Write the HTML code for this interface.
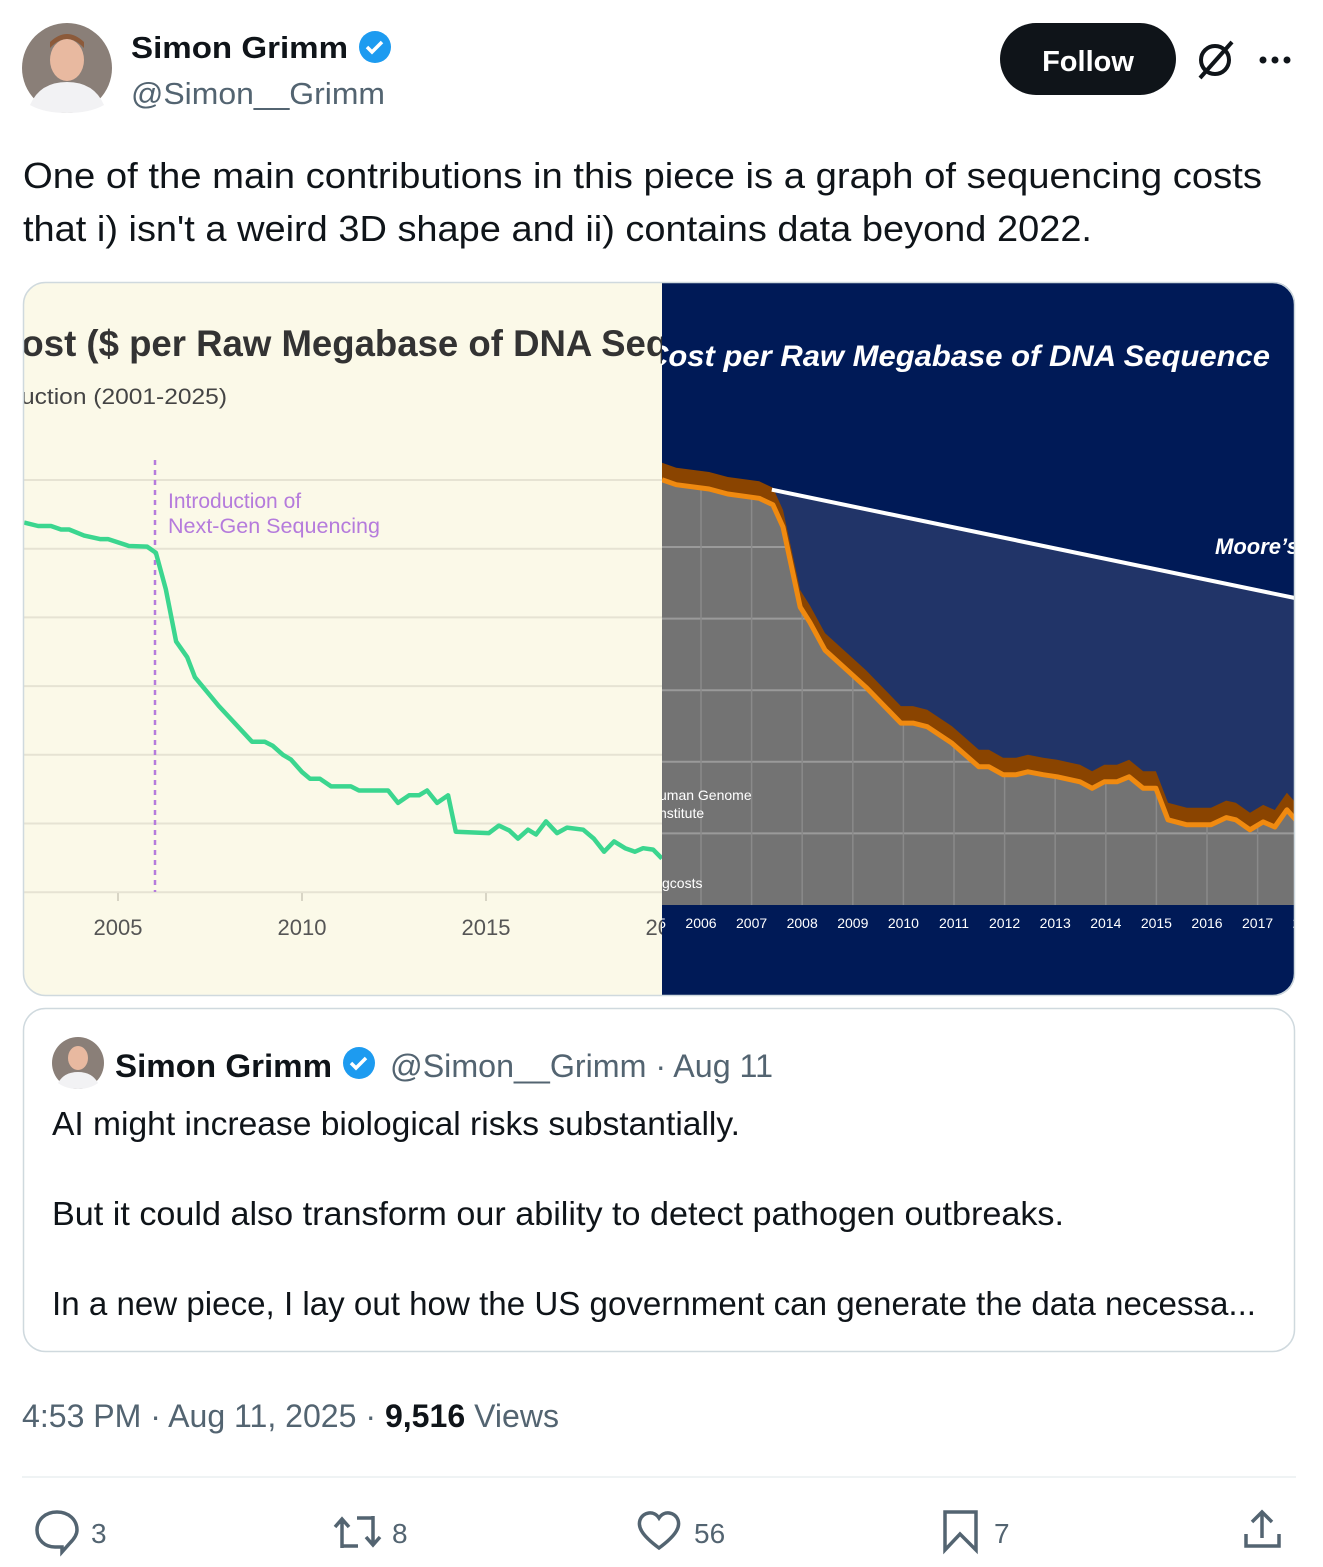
<!DOCTYPE html>
<html><head><meta charset="utf-8">
<style>
html,body{margin:0;padding:0;background:#fff;}
body{width:1323px;height:1567px;overflow:hidden;position:relative;font-family:"Liberation Sans",sans-serif;}
svg{position:absolute;left:0;top:0;}
</style></head>
<body>
<svg id="page" width="1323" height="1567" viewBox="0 0 1323 1567" xmlns="http://www.w3.org/2000/svg">
  <defs>
    <clipPath id="cardClip"><rect x="23" y="282" width="1272" height="714" rx="22"/></clipPath>
    <clipPath id="leftClip"><rect x="23" y="282" width="639" height="714"/></clipPath>
    <clipPath id="rightClip"><rect x="662" y="282" width="633" height="714"/></clipPath>
    <clipPath id="rightPlot"><rect x="662" y="282" width="632" height="623"/></clipPath>
    <clipPath id="grayClip"><path id="grayClipPath"/></clipPath>
  </defs>

  <g>
    <circle cx="67" cy="68" r="45" fill="#8a7f78"/>
    <ellipse cx="67" cy="60" rx="17" ry="21" fill="#e8b9a0"/>
    <path d="M50 48 Q67 30 84 48 L84 42 Q67 26 50 42Z" fill="#8c5a3a"/>
    <path d="M30 105 Q40 82 67 82 Q94 82 104 105 Q90 113 67 113 Q44 113 30 105Z" fill="#f2f2f4"/>
  </g>
  <text x="131" y="58" font-size="31" font-weight="bold" fill="#0f1419" textLength="217" lengthAdjust="spacingAndGlyphs">Simon Grimm</text>
  <g>
    <circle cx="375" cy="47" r="16" fill="#1d9bf0"/>
    <path d="M367 47 l5 5 l10 -10" stroke="#fff" stroke-width="3.5" fill="none"/>
  </g>
  <text x="131" y="104" font-size="31" fill="#536471" textLength="254" lengthAdjust="spacingAndGlyphs">@Simon__Grimm</text>

  <g>
    <rect x="1000" y="23" width="176" height="72" rx="36" fill="#0f1419"/>
    <text x="1088" y="71" font-size="29" font-weight="bold" fill="#fff" text-anchor="middle">Follow</text>
  </g>
  <g stroke="#0f1419" stroke-width="4" fill="none">
    <circle cx="1215" cy="60" r="14"/>
    <line x1="1200" y1="78" x2="1232" y2="42"/>
  </g>
  <g fill="#0f1419">
    <circle cx="1263" cy="60" r="3.5"/><circle cx="1275" cy="60" r="3.5"/><circle cx="1287" cy="60" r="3.5"/>
  </g>

  <g font-size="36" fill="#0f1419">
    <text x="23" y="188" textLength="1239" lengthAdjust="spacingAndGlyphs">One of the main contributions in this piece is a graph of sequencing costs</text>
    <text x="23" y="241" textLength="1069" lengthAdjust="spacingAndGlyphs">that i) isn't a weird 3D shape and ii) contains data beyond 2022.</text>
  </g>

  <g clip-path="url(#cardClip)">
    <g clip-path="url(#leftClip)">
      <rect x="23" y="282" width="639" height="714" fill="#fbf9e8"/>
      <text x="-5" y="356" font-size="37" font-weight="bold" fill="#333" textLength="791" lengthAdjust="spacingAndGlyphs">Cost ($ per Raw Megabase of DNA Sequence)</text>
      <text x="21" y="404" font-size="22" fill="#444" textLength="206" lengthAdjust="spacingAndGlyphs">uction (2001-2025)</text>
      <g id="leftGrid"></g>
      <g id="leftAxis"></g>
      <line x1="155" y1="460" x2="155" y2="892" stroke="#b57bdc" stroke-width="2.5" stroke-dasharray="5,5"/>
      <text x="168" y="508" font-size="21" fill="#b57bdc">Introduction of</text>
      <text x="168" y="533" font-size="21" fill="#b57bdc" textLength="212" lengthAdjust="spacingAndGlyphs">Next-Gen Sequencing</text>
      <path id="leftLine" fill="none" stroke="#3bd68f" stroke-width="4.5" stroke-linejoin="round"/>
    </g>
    <g clip-path="url(#rightClip)">
      <rect x="662" y="282" width="633" height="714" fill="#001a57"/>
      <g clip-path="url(#rightPlot)">
        <path id="blueArea" fill="#213468"/>
        <path id="grayArea" fill="#737373"/>
        <g id="rightGrid" clip-path="url(#grayClip)"></g>
        <path id="bandArea" fill="#8a4400"/>
        <path id="rightLine" fill="none" stroke="#f08a10" stroke-width="5" stroke-linejoin="round"/>
        <line id="mooreLine" stroke="#fff" stroke-width="4"/>
      </g>
      <text x="646" y="366" font-size="30" font-weight="bold" font-style="italic" fill="#fff" textLength="624" lengthAdjust="spacingAndGlyphs">Cost per Raw Megabase of DNA Sequence</text>
      <text x="1215" y="554" font-size="22" font-weight="bold" font-style="italic" fill="#fff">Moore’s Law</text>
      <text x="659" y="800" font-size="14" fill="#fff">uman Genome</text>
      <text x="659" y="818" font-size="14" fill="#fff">nstitute</text>
      <text x="662" y="888" font-size="14" fill="#fff">gcosts</text>
      <g id="rightAxis"></g>
    </g>
  </g>
  <rect x="23.5" y="282.5" width="1271" height="713" rx="22" fill="none" stroke="#cfd9de" stroke-width="1.5"/>

  <g>
    <rect x="23.5" y="1008.5" width="1271" height="343" rx="22" fill="#fff" stroke="#cfd9de" stroke-width="1.5"/>
    <g>
      <circle cx="78" cy="1063" r="26" fill="#8a7f78"/>
      <ellipse cx="78" cy="1058" rx="10" ry="12" fill="#e8b9a0"/>
      <path d="M58 1083 Q64 1072 78 1072 Q92 1072 98 1083 Q90 1089 78 1089 Q66 1089 58 1083Z" fill="#f2f2f4"/>
    </g>
    <text x="115" y="1077" font-size="32" font-weight="bold" fill="#0f1419" textLength="217" lengthAdjust="spacingAndGlyphs">Simon Grimm</text>
    <circle cx="359" cy="1063" r="16" fill="#1d9bf0"/>
    <path d="M351 1063 l5 5 l10 -10" stroke="#fff" stroke-width="3.5" fill="none"/>
    <text x="390" y="1077" font-size="32" fill="#536471" textLength="383" lengthAdjust="spacingAndGlyphs">@Simon__Grimm · Aug 11</text>
    <g font-size="33" fill="#0f1419">
      <text x="52" y="1135" textLength="688" lengthAdjust="spacingAndGlyphs">AI might increase biological risks substantially.</text>
      <text x="52" y="1225" textLength="1012" lengthAdjust="spacingAndGlyphs">But it could also transform our ability to detect pathogen outbreaks.</text>
      <text x="52" y="1315" textLength="1204" lengthAdjust="spacingAndGlyphs">In a new piece, I lay out how the US government can generate the data necessa...</text>
    </g>
  </g>

  <text x="22" y="1427" font-size="32" fill="#536471" textLength="537" lengthAdjust="spacingAndGlyphs">4:53 PM · Aug 11, 2025 · <tspan font-weight="bold" fill="#0f1419">9,516</tspan> Views</text>
  <line x1="22" y1="1477" x2="1296" y2="1477" stroke="#eff3f4" stroke-width="2"/>

  <g stroke="#536471" stroke-width="3.5" fill="none">
    <path d="M57 1512 C45 1512 37 1520 37 1530 C37 1540 45 1547 55 1547 L62 1547 L62 1552 L70 1543 C74 1539 77 1535 77 1530 C77 1520 69 1512 57 1512Z"/>
    <path d="M342 1548 V1520 M335 1527 L342 1519 L349 1527 M342 1546 H358 M373 1516 V1544 M366 1537 L373 1545 L380 1537 M373 1518 H357"/>
    <path d="M659 1548 C640 1534 638 1526 640 1520 C643 1512 654 1510 659 1518 C664 1510 675 1512 678 1520 C680 1526 678 1534 659 1548Z"/>
    <path d="M945 1512 H976 V1550 L960 1534 L945 1550Z"/>
    <path d="M1262 1512 V1538 M1252 1522 L1262 1512 L1272 1522 M1246 1534 V1546 H1279 V1534"/>
  </g>
  <g font-size="28" fill="#536471">
    <text x="91" y="1543">3</text>
    <text x="392" y="1543">8</text>
    <text x="694" y="1543">56</text>
    <text x="994" y="1543">7</text>
  </g>
</svg>
<script>
const leftYears = [2002.45,2002.83,2003.18,2003.45,2003.67,2004.08,2004.51,2004.73,2005.30,2005.79,2006.03,2006.30,2006.58,2006.88,2007.09,2007.74,2008.64,2008.99,2009.21,2009.48,2009.70,2010.00,2010.22,2010.49,2010.79,2011.33,2011.55,2012.34,2012.61,2012.91,2013.18,2013.40,2013.67,2013.97,2014.18,2015.08,2015.35,2015.63,2015.87,2016.14,2016.36,2016.63,2016.93,2017.20,2017.64,2017.93,2018.21,2018.48,2018.78,2019.05,2019.27,2019.54,2019.78];
const leftLogCost = [3.38,3.33,3.33,3.28,3.28,3.19,3.14,3.14,3.04,3.03,2.94,2.41,1.65,1.42,1.13,0.71,0.19,0.19,0.13,0.00,-0.07,-0.25,-0.35,-0.35,-0.46,-0.46,-0.52,-0.52,-0.70,-0.59,-0.59,-0.52,-0.70,-0.59,-1.12,-1.14,-1.03,-1.10,-1.22,-1.09,-1.16,-0.97,-1.14,-1.06,-1.09,-1.22,-1.41,-1.26,-1.36,-1.41,-1.36,-1.38,-1.51];
const leftGridLogs = [4,3,2,1,0,-1,-2];
const leftTickYears = [2005,2010,2015,2020];
const leftTickLabels = ["2005","2010","2015","2020"];

const rightYears = [2005.73,2006.01,2006.66,2007.03,2007.65,2007.92,2008.12,2008.46,2008.65,2008.95,2009.76,2010.45,2010.69,2010.97,2011.46,2011.99,2012.19,2012.47,2012.73,2012.96,2013.26,2013.54,2013.99,2014.23,2014.47,2014.72,2014.96,2015.24,2015.49,2015.73,2016.10,2016.58,2016.88,2017.07,2017.35,2017.61,2017.84,2018.08,2018.34];
const rightLogCost = [3.94,3.87,3.81,3.74,3.68,3.59,3.28,2.16,1.95,1.56,1.04,0.54,0.54,0.49,0.26,-0.07,-0.07,-0.18,-0.18,-0.14,-0.18,-0.21,-0.28,-0.37,-0.28,-0.28,-0.21,-0.37,-0.37,-0.81,-0.88,-0.88,-0.78,-0.81,-0.95,-0.84,-0.91,-0.67,-0.88];
const mooreYears = [2007.9,2018.22];
const mooreLogCost = [3.80,2.29];
const rightGridLogs = [3,2,1,0,-1];
const rightYearLabels = [2005,2006,2007,2008,2009,2010,2011,2012,2013,2014,2015,2016,2017,2018];

const NS = "http://www.w3.org/2000/svg";
function mk(tag, attrs, parent){const e=document.createElementNS(NS,tag);for(const k in attrs)e.setAttribute(k,attrs[k]);parent.appendChild(e);return e;}

const lx = y => 118 + (y-2005)*36.8;
const ly = v => 480 + (4-v)*68.7;
const lg = document.getElementById('leftGrid');
leftGridLogs.forEach(v=>{
  const l=mk('line',{x1:23,x2:662,y1:ly(v),y2:ly(v),stroke:'#e6e3d3','stroke-width':2},lg);
  
  
});
const la = document.getElementById('leftAxis');
leftTickYears.forEach((yr,i)=>{
  const t=mk('line',{x1:lx(yr),x2:lx(yr),y1:893,y2:901,stroke:'#d8d5c5','stroke-width':2},la);
  
  
  const tx=mk('text',{x:lx(yr),y:935,'font-size':22,fill:'#555','text-anchor':'middle'},la);
  tx.textContent=leftTickLabels[i];
  
  
});
document.getElementById('leftLine').setAttribute('d', leftYears.map((y,i)=>(i?'L':'M')+lx(y).toFixed(1)+' '+ly(leftLogCost[i]).toFixed(1)).join(' '));

const rx = y => 701 + (y-2006.5)*50.6;
const ry = v => 547 + (3-v)*71.6;
const BOT = 905, EXT = 17;
const pts = rightYears.map((y,i)=>[rx(y), ry(rightLogCost[i])]);
const lineD = pts.map((p,i)=>(i?'L':'M')+p[0].toFixed(1)+' '+p[1].toFixed(1)).join(' ');
document.getElementById('rightLine').setAttribute('d', lineD);
const grayD = lineD + ` L${pts[pts.length-1][0]} ${BOT} L${pts[0][0]} ${BOT}Z`;
document.getElementById('grayArea').setAttribute('d', grayD);
document.getElementById('grayClipPath').setAttribute('d', grayD);
const topPts = pts.map(p=>[p[0], p[1]-EXT]);
document.getElementById('bandArea').setAttribute('d',
  pts.map((p,i)=>(i?'L':'M')+p[0].toFixed(1)+' '+p[1].toFixed(1)).join(' ') + ' ' +
  topPts.slice().reverse().map(p=>'L'+p[0].toFixed(1)+' '+p[1].toFixed(1)).join(' ') + 'Z');
const m0=[rx(mooreYears[0]),ry(mooreLogCost[0])], m1=[rx(mooreYears[1]),ry(mooreLogCost[1])];
const slope=(m1[1]-m0[1])/(m1[0]-m0[0]);
const ml=document.getElementById('mooreLine');
ml.setAttribute('x1',m0[0]);ml.setAttribute('y1',m0[1]);ml.setAttribute('x2',m1[0]+40);ml.setAttribute('y2',m1[1]+40*slope);
document.getElementById('blueArea').setAttribute('d', `M${m0[0]} ${m0[1]} L${m1[0]+40} ${m1[1]+40*slope} L${m1[0]+40} ${BOT} L${m0[0]} ${BOT}Z`);
const rg=document.getElementById('rightGrid');
rightGridLogs.forEach(v=>{
  const l=mk('line',{x1:662,x2:1294,y1:ry(v),y2:ry(v),stroke:'#9a9a9a','stroke-width':2},rg);
  
  
});
rightYearLabels.forEach(yr=>{
  const l=mk('line',{x1:rx(yr+1)-25.3,x2:rx(yr+1)-25.3,y1:460,y2:BOT,stroke:'#8a8a8a','stroke-width':1.5},rg);
  
  
});
const ra=document.getElementById('rightAxis');
rightYearLabels.forEach(yr=>{
  const t=mk('text',{x:rx(yr+0.5),y:928,'font-size':14,fill:'#fff','text-anchor':'middle'},ra);
  t.textContent=String(yr);
  
  
});
</script>
</body></html>
